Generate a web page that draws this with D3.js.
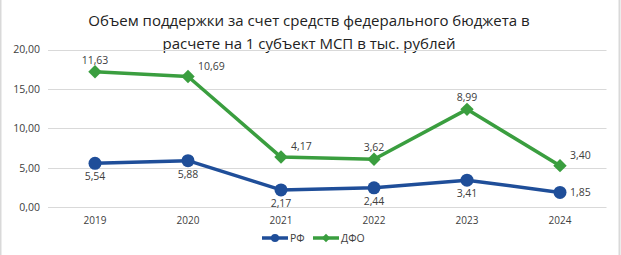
<!DOCTYPE html>
<html><head><meta charset="utf-8">
<script src="https://cdn.jsdelivr.net/npm/d3@7"></script>
<style>
html,body{margin:0;padding:0;background:#fff;}
svg{display:block;font-family:"Open Sans","Noto Sans",sans-serif;}
</style></head>
<body>
<svg id="c" width="621" height="255"></svg>
<script>
const years = ["2019","2020","2021","2022","2023","2024"];
const rfValues = [5.54, 5.88, 2.17, 2.44, 3.41, 1.85];
const dfoValues = [11.63, 10.69, 4.17, 3.62, 8.99, 3.40];
const yTicks = [0, 5, 10, 15, 20];
const titleLines = ["Объем поддержки за счет средств федерального бюджета в", "расчете на 1 субъект МСП в тыс. рублей"];
const seriesNames = ["РФ", "ДФО"];
const rfLabelPos = ["below","below","below","below","below","right"];
const dfoLabelPos = ["above","rightAbove","rightAbove","above","above","rightAbove"];

const W = 621, H = 255;
const svg = d3.select("#c");
const blue = "#1F4E99", green = "#3A9E3F";
const fmt = v => v.toFixed(2).replace(".", ",");

svg.append("rect").attr("x",0.5).attr("y",-2).attr("width",W-2).attr("height",H+4)
  .attr("fill","#fff").attr("stroke","#d9d9d9").attr("stroke-width",2);

const x = d3.scaleBand().domain(years).range([48.5, 606.5]);
const y = d3.scaleLinear().domain([0, 20]).range([207, 49.5]);

// title
svg.append("g").selectAll("text").data(titleLines).join("text")
  .attr("x", 309).attr("y", (d,i) => 26 + i*23)
  .attr("text-anchor","middle").attr("font-size", 15).attr("fill","#222")
  .text(d => d);

// grid
const grid = svg.append("g");
grid.selectAll("line").data(yTicks).join("line")
  .attr("x1", 48).attr("x2", 606.5)
  .attr("y1", d => Math.round(y(d))+0.5).attr("y2", d => Math.round(y(d))+0.5)
  .attr("stroke","#d9d9d9").attr("stroke-width",1);

// y axis labels
const yAxis = d3.axisLeft(y).tickValues(yTicks).tickFormat(fmt).tickSize(0).tickPadding(8);
const ya = svg.append("g").attr("transform","translate(48,0)").call(yAxis);
ya.select(".domain").remove();
ya.selectAll("text").attr("font-size",10.5).attr("fill","#404040").attr("font-family","'Open Sans',sans-serif");

// x axis labels
const xAxis = d3.axisBottom(x).tickSize(0).tickPadding(10);
const xa = svg.append("g").attr("transform","translate(0,207)").call(xAxis);
xa.select(".domain").remove();
xa.selectAll("text").attr("font-size",10).attr("fill","#404040").attr("font-family","'Open Sans',sans-serif");

const cx = d => x(d) + x.bandwidth()/2;
const stacked = dfoValues.map((v,i) => v + rfValues[i]);

const line = d3.line().x(d => cx(d.year)).y(d => y(d.v));

const rfData = years.map((yr,i) => ({year: yr, v: rfValues[i], label: rfValues[i], pos: rfLabelPos[i]}));
const dfoData = years.map((yr,i) => ({year: yr, v: stacked[i], label: dfoValues[i], pos: dfoLabelPos[i]}));

function drawSeries(data, color, marker) {
  const g = svg.append("g");
  g.append("path").datum(data).attr("d", line).attr("fill","none")
    .attr("stroke", color).attr("stroke-width", 3.5).attr("stroke-linejoin","round");
  if (marker === "circle") {
    g.selectAll("circle").data(data).join("circle")
      .attr("cx", d => cx(d.year)).attr("cy", d => y(d.v)).attr("r", 6.5).attr("fill", color);
  } else {
    g.selectAll("path.m").data(data).join("path").attr("class","m")
      .attr("d", d3.symbol().type(d3.symbolDiamond2).size(115))
      .attr("transform", d => `translate(${cx(d.year)},${y(d.v)})`)
      .attr("fill", color);
  }
  g.selectAll("text").data(data).join("text")
    .attr("font-size", 10.5).attr("fill","#404040")
    .attr("x", d => {
      const px = cx(d.year);
      if (d.pos === "right") return px + 10;
      if (d.pos === "rightAbove") return px + 10;
      return px;
    })
    .attr("y", d => {
      const py = y(d.v);
      if (d.pos === "below") return py + 17;
      if (d.pos === "right") return py + 4;
      if (d.pos === "rightAbove") return py - 7;
      return py - 8;
    })
    .attr("text-anchor", d => (d.pos === "right" || d.pos === "rightAbove") ? "start" : "middle")
    .text(d => fmt(d.label));
}
drawSeries(rfData, blue, "circle");
drawSeries(dfoData, green, "diamond");

// legend
const leg = svg.append("g").attr("transform","translate(0,238)");
const items = [{name: seriesNames[0], color: blue, m: "circle", x0: 262},
               {name: seriesNames[1], color: green, m: "diamond", x0: 313}];
items.forEach(it => {
  leg.append("line").attr("x1", it.x0).attr("x2", it.x0+26).attr("y1",0).attr("y2",0)
    .attr("stroke", it.color).attr("stroke-width",3.5);
  if (it.m === "circle") leg.append("circle").attr("cx", it.x0+13).attr("cy",0).attr("r",4).attr("fill", it.color);
  else leg.append("path").attr("d", d3.symbol().type(d3.symbolDiamond2).size(45)).attr("transform",`translate(${it.x0+13},0)`).attr("fill", it.color);
  leg.append("text").attr("x", it.x0+28).attr("y", 4).attr("font-size",10.5).attr("fill","#404040").text(it.name);
});
</script>
</body></html>
